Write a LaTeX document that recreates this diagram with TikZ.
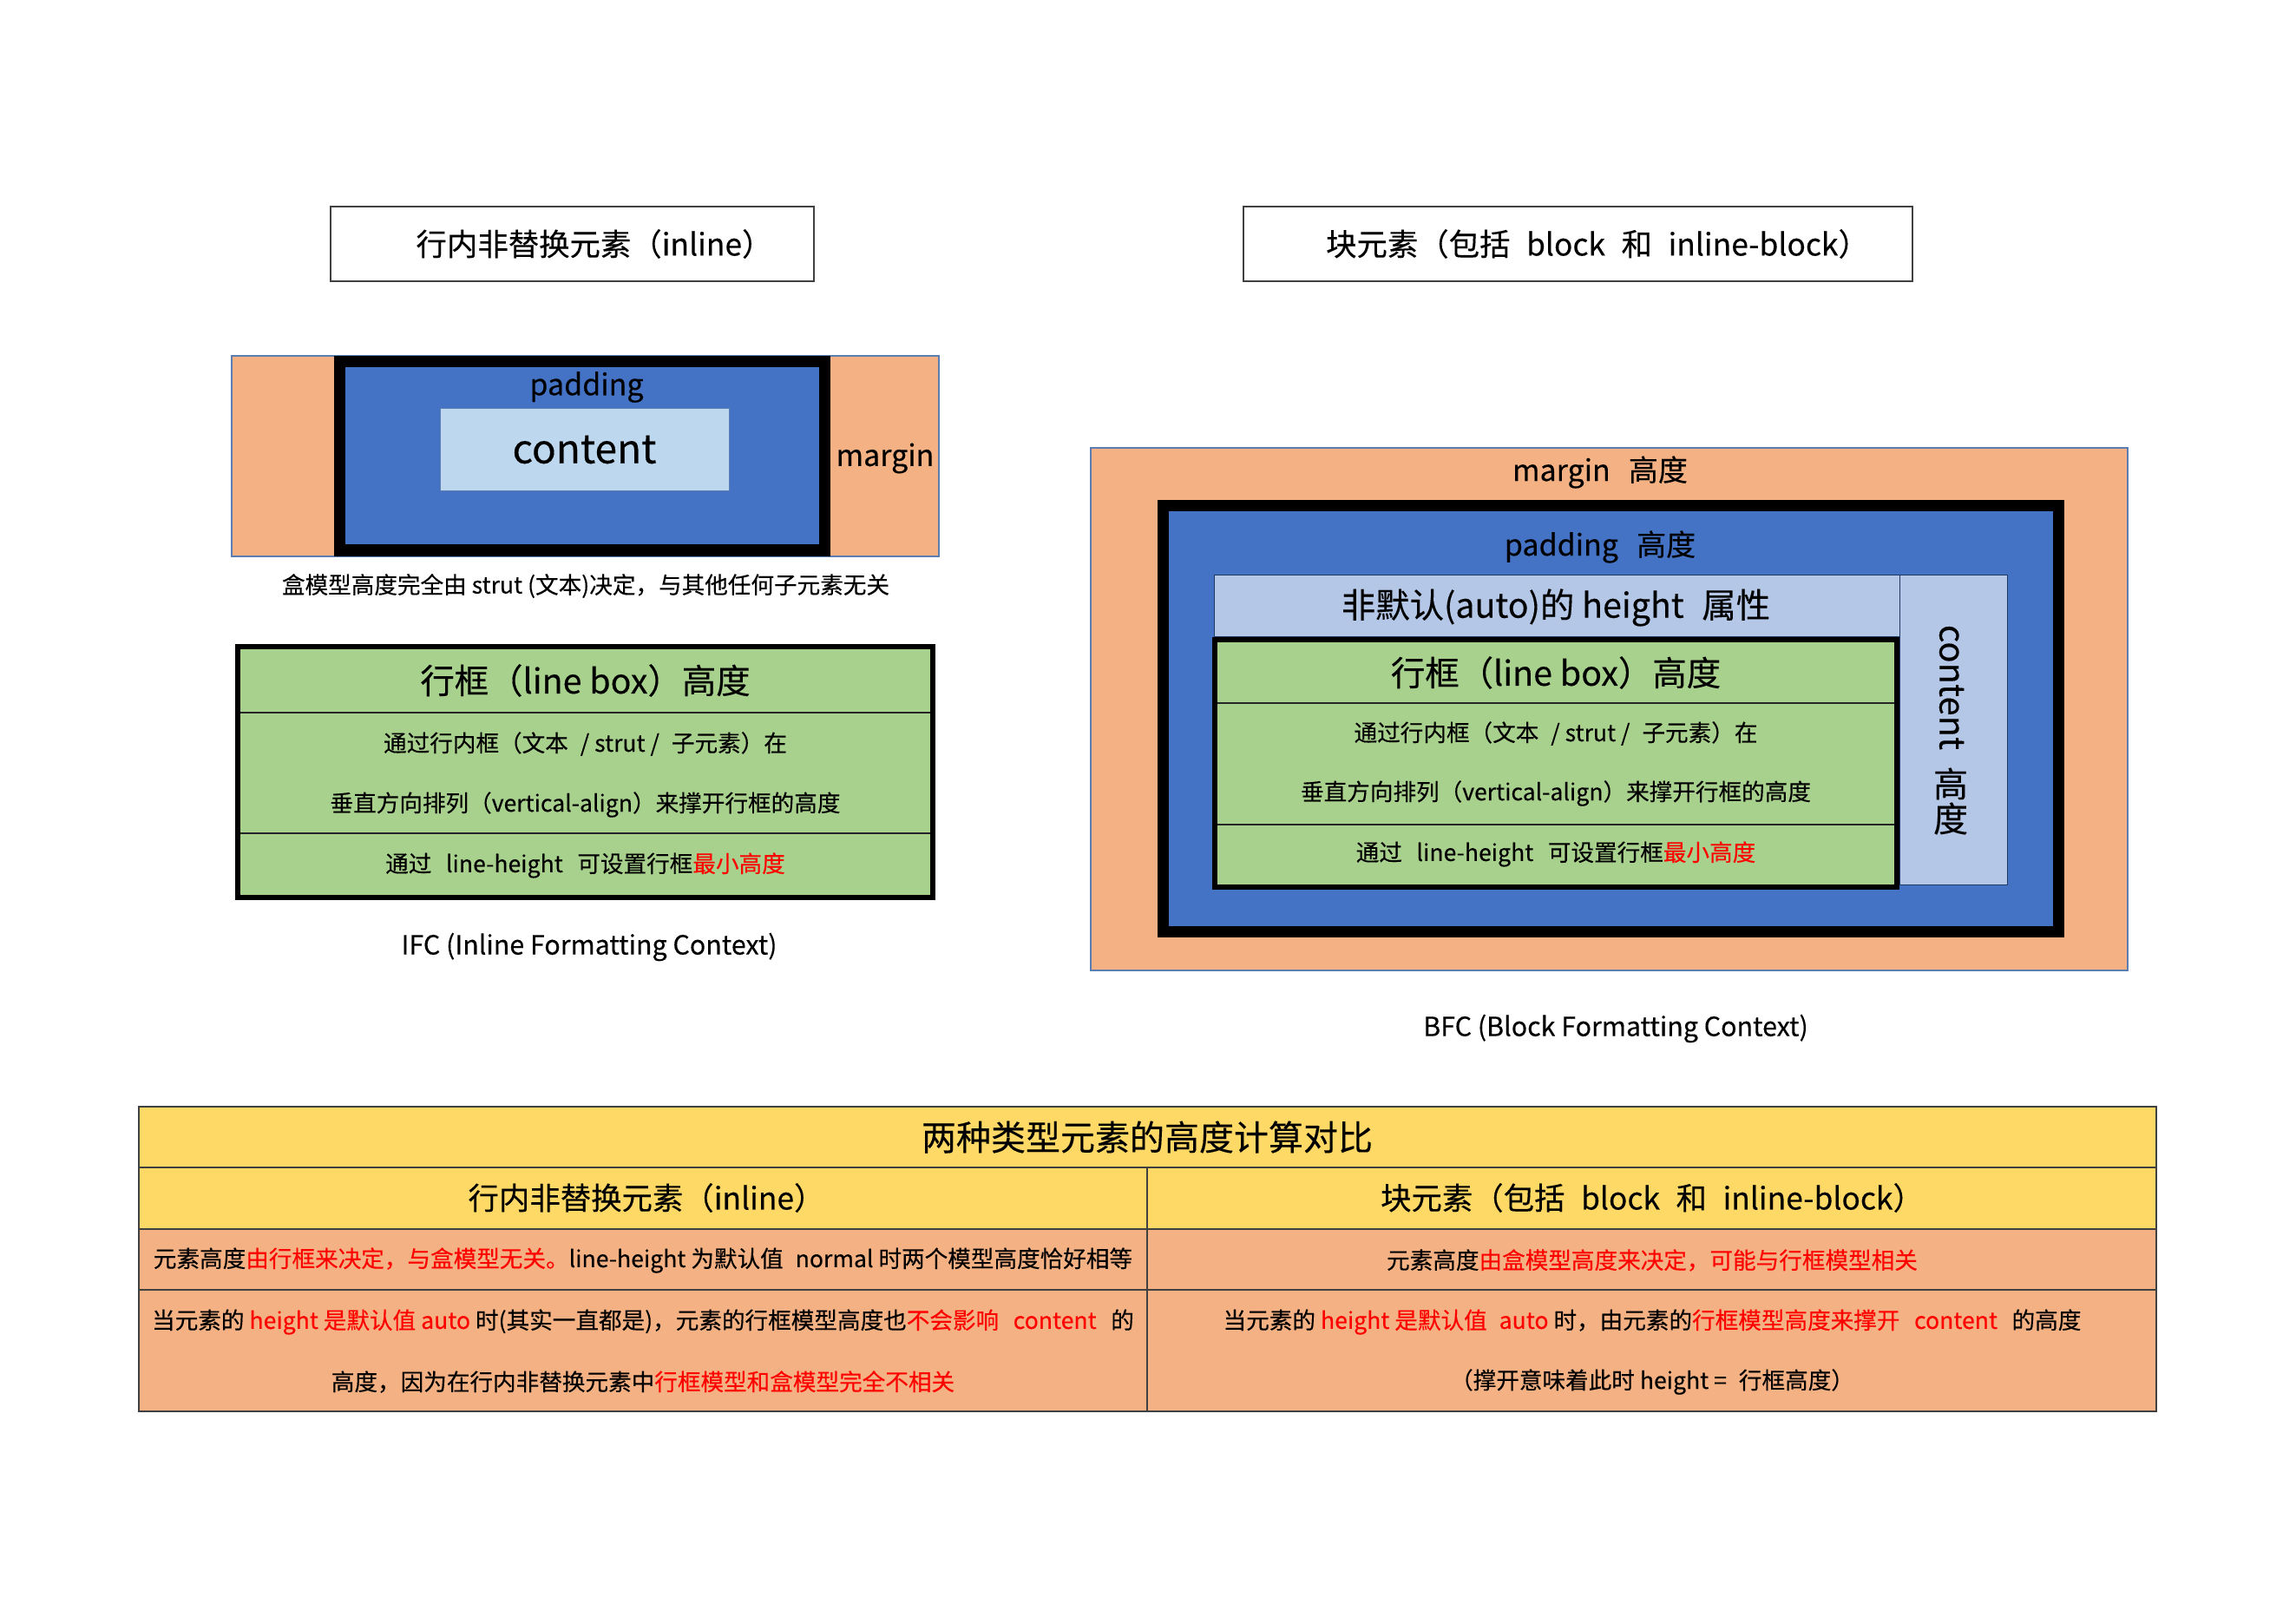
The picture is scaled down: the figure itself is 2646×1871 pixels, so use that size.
\documentclass[tikz,border=0pt]{standalone}
\usepackage{fontspec}
\setmainfont[FakeBold=0.25]{Noto Sans CJK SC}
\definecolor{morange}{HTML}{F4B183}
\definecolor{mblue}{HTML}{4472C4}
\definecolor{lblue}{HTML}{BDD7EE}
\definecolor{cblue}{HTML}{B4C7E7}
\definecolor{mgreen}{HTML}{A9D18E}
\definecolor{myellow}{HTML}{FFD966}
\definecolor{edgeblue}{HTML}{5B7DB1}
\definecolor{navy}{HTML}{1F3864}
\definecolor{tline}{HTML}{404040}
\newcommand{\rd}[1]{\textcolor{red}{#1}}
\begin{document}
\begin{tikzpicture}[x=0.5pt,y=-0.5pt,
  txt/.style={inner sep=0pt, anchor=center, text=black},
  f13/.style={txt, font=\fontsize{13.3pt}{15pt}\selectfont},
  f15/.style={txt, font=\fontsize{15.2pt}{17pt}\selectfont},
  f17/.style={txt, font=\fontsize{17pt}{20pt}\selectfont},
  f18/.style={txt, font=\fontsize{17.7pt}{20pt}\selectfont},
  f19/.style={txt, font=\fontsize{19.7pt}{22pt}\selectfont},
  f20/.style={txt, font=\fontsize{20pt}{23pt}\selectfont},
  f23/.style={txt, font=\fontsize{23pt}{26pt}\selectfont},
  marginbox/.style={fill=morange, draw=edgeblue, line width=0.6pt},
  titlebox/.style={draw=black!75, line width=0.8pt, fill=white},
  lightbox/.style={draw=navy, line width=0.5pt},
  thinrule/.style={draw=black!85, line width=0.6pt},
  tablerule/.style={draw=tline, line width=0.7pt}
]
\useasboundingbox (0,0) rectangle (2646,1871);
\fill[white] (0,0) rectangle (2646,1871);

% ---------- title boxes ----------
\path[titlebox] (381,238) rectangle (938,324);
\node[f18] (tL) at (685,281) {行内非替换元素（inline）};
\path[titlebox] (1433,238) rectangle (2204,324);
\node[f18] (tR) at (1841,281) {块元素（包括\hspace{.3em} block\hspace{.3em} 和\hspace{.3em} inline-block）};

% ---------- left box model ----------
\path[marginbox] (267,410) rectangle (1082,641);
\fill[black] (385,410) rectangle (957,641);
\fill[mblue] (398,423) rectangle (944,627);
\path[fill=lblue, draw=edgeblue, line width=0.5pt] (507,471) rectangle (840,566);
\node[f17] (lpad) at (676,446) {padding};
\node[f23] (lcont) at (673.5,518) {content};
\node[f17] (lmar) at (1020,528) {margin};
\node[f13] (lcap) at (675,675) {盒模型高度完全由 strut (文本)决定，与其他任何子元素无关};

% ---------- IFC line box ----------
\fill[mgreen] (271,742) rectangle (1078,1037);
\draw[thinrule] (274,821) -- (1075,821);
\draw[thinrule] (274,960) -- (1075,960);
\draw[black, line width=3pt] (274,745) rectangle (1075,1034);
\node[f19] (ifct) at (674.5,784) {行框（line box）高度};
\node[f13] (ifc1) at (674.5,857) {通过行内框（文本\hspace{.3em} / strut /\hspace{.3em} 子元素）在};
\node[f13] (ifc2) at (674.5,927) {垂直方向排列（vertical-align）来撑开行框的高度};
\node[f13] (ifc3) at (674.5,997) {通过\hspace{.4em} line-height\hspace{.4em} 可设置行框\rd{最小高度}};
\node[f15] (ifccap) at (679,1091) {IFC (Inline Formatting Context)};

% ---------- BFC ----------
\path[marginbox] (1257,516) rectangle (2452,1118);
\fill[black] (1334,576) rectangle (2379,1080);
\fill[mblue] (1347,589) rectangle (2366,1067);
\path[lightbox, fill=cblue] (1399,663) rectangle (2189,734);
\path[lightbox, fill=cblue] (2189,663) rectangle (2313,1019);
\fill[mgreen] (1397,734) rectangle (2189,1025);
\draw[thinrule] (1400,810) -- (2186,810);
\draw[thinrule] (1400,950) -- (2186,950);
\draw[black, line width=3pt] (1400,737) rectangle (2186,1022);
\node[f17] (bmar) at (1844,544) {margin\hspace{.4em} 高度};
\node[f17] (bpad) at (1844,630) {padding\hspace{.4em} 高度};
\node[f19] (bauto) at (1793,700) {非默认(auto)的 height\hspace{.3em} 属性};
\node[f19] (bfct) at (1793,775) {行框（line box）高度};
\node[f13] (bfc1) at (1793,845) {通过行内框（文本\hspace{.3em} / strut /\hspace{.3em} 子元素）在};
\node[f13] (bfc2) at (1793,914) {垂直方向排列（vertical-align）来撑开行框的高度};
\node[f13] (bfc3) at (1793,984) {通过\hspace{.4em} line-height\hspace{.4em} 可设置行框\rd{最小高度}};
\node[f20, rotate=-90] (bcont) at (2249,792) {content};
\node[f20] (bgao) at (2248,903) {高};
\node[f20] (bdu) at (2248,943) {度};
\node[f15] (bfccap) at (1862,1185) {BFC (Block Formatting Context)};

% ---------- comparison table ----------
\fill[myellow] (160,1275) rectangle (2485,1416);
\fill[morange] (160,1416) rectangle (2485,1626);
\draw[tablerule] (160,1275) rectangle (2485,1626);
\draw[tablerule] (160,1345) -- (2485,1345);
\draw[tablerule] (160,1416) -- (2485,1416);
\draw[tablerule] (160,1486) -- (2485,1486);
\draw[tablerule] (1322,1345) -- (1322,1626);
\node[f20] (tabt) at (1322,1310) {两种类型元素的高度计算对比};
\node[f18] (tabL) at (745,1380) {行内非替换元素（inline）};
\node[f18] (tabR) at (1904,1380) {块元素（包括\hspace{.3em} block\hspace{.3em} 和\hspace{.3em} inline-block）};
\node[f13] (r3L) at (741,1452) {元素高度\rd{由行框来决定，与盒模型无关。}line-height 为默认值\hspace{.3em} normal 时两个模型高度恰好相等};
\node[f13] (r3R) at (1904,1452) {元素高度\rd{由盒模型高度来决定，可能与行框模型相关}};
\node[f13] (r4L1) at (741,1523) {当元素的 \rd{height 是默认值 auto} 时(其实一直都是)，元素的行框模型高度也\rd{不会影响\hspace{.4em} content}\hspace{.4em} 的};
\node[f13] (r4L2) at (741,1592) {高度，因为在行内非替换元素中\rd{行框模型和盒模型完全不相关}};
\node[f13] (r4R1) at (1904,1523) {当元素的 \rd{height 是默认值\hspace{.3em} auto} 时，由元素的\rd{行框模型高度来撑开\hspace{.4em} content}\hspace{.4em} 的高度};
\node[f13] (r4R2) at (1904,1592) {（撑开意味着此时 height =\hspace{.3em} 行框高度）};
\end{tikzpicture}
\end{document}
